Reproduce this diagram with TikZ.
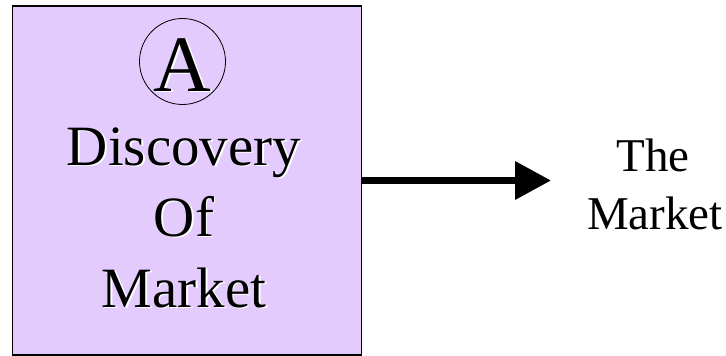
\documentclass[tikz,border=0pt]{standalone}
\usepackage{fontspec}
\setmainfont{Liberation Serif}
\usetikzlibrary{arrows.meta}
\definecolor{lavbox}{RGB}{227,204,253}
% text with a white drop shadow
\newcommand{\embos}[1]{\makebox[0pt][l]{\hspace{1.6pt}\raisebox{-1.6pt}{\color{white}#1}}#1}

\begin{document}
\begin{tikzpicture}[x=1pt,y=-1pt,
    bigtxt/.style={font=\fontsize{57}{70}\selectfont, inner sep=0pt, anchor=base},
    sidetxt/.style={font=\fontsize{47}{58}\selectfont, inner sep=0pt, anchor=base}]
    \useasboundingbox (0,0) rectangle (726,356);
    \node[draw, line width=1.5pt, fill=lavbox, minimum width=349pt, minimum height=349pt, inner sep=0pt] (disc) at (187,180.5) {};
    \node[draw, circle, line width=0.8pt, minimum size=86pt, inner sep=0pt] (ring) at (182.5,61.5) {};
    \node[font=\fontsize{80}{90}\selectfont, inner sep=0pt, anchor=base] (lettA) at (182.5,91) {\embos{A}};
    \node[bigtxt] (lnA) at (184,165) {\embos{Discovery}};
    \node[bigtxt] (lnB) at (184,236) {\embos{Of}};
    \node[bigtxt] (lnC) at (184,307) {\embos{Market}};
    \node[sidetxt] (the) at (653,171) {The};
    \node[sidetxt] (mkt) at (655,229) {Market};
    \coordinate (tip) at (551,180.5);
    \draw[line width=7pt, -{Triangle[length=36pt,width=37pt]}] (disc.east) -- (tip);
\end{tikzpicture}
\end{document}
